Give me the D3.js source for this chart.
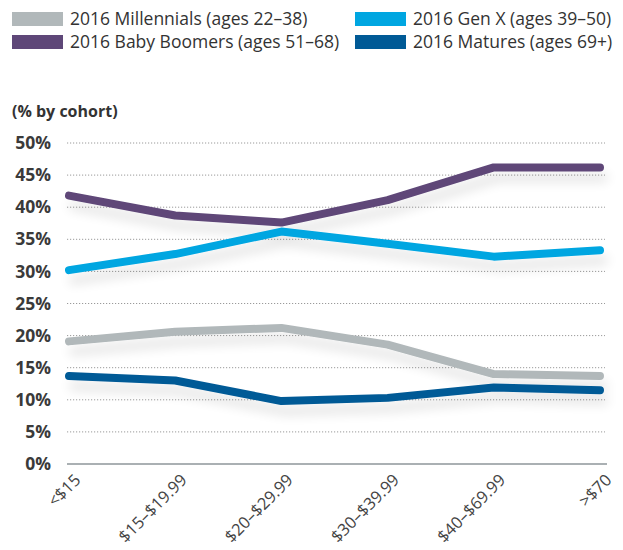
<!DOCTYPE html>
<html>
<head>
<meta charset="utf-8">
<script src="https://cdn.jsdelivr.net/npm/d3@7"></script>
<style>
  body { margin: 0; background: #fff; }
  svg text { font-family: "Open Sans", "Noto Sans", sans-serif; }
</style>
</head>
<body>
<div id="main"></div>
<script>
// price bands and cohort shares (% by cohort)
var categories = ['<$15', '$15–$19.99', '$20–$29.99', '$30–$39.99', '$40–$69.99', '>$70'];
var millennials = [19.1, 20.6, 21.2, 18.6, 14.0, 13.7];
var genX = [30.2, 32.7, 36.2, 34.3, 32.3, 33.3];
var boomers = [41.8, 38.7, 37.6, 41.1, 46.2, 46.2];
var matures = [13.7, 13.0, 9.8, 10.3, 11.9, 11.5];
var yTicks = [0, 5, 10, 15, 20, 25, 30, 35, 40, 45, 50];

var series = [
    { name: '2016 Millennials (ages 22–38)', values: millennials, color: '#b1b8ba' },
    { name: '2016 Gen X (ages 39–50)', values: genX, color: '#00a6e1' },
    { name: '2016 Baby Boomers (ages 51–68)', values: boomers, color: '#5e4778' },
    { name: '2016 Matures (ages 69+)', values: matures, color: '#005a96' }
];

var svg = d3.select('#main').append('svg').attr('width', 623).attr('height', 550);

var defs = svg.append('defs');
var f = defs.append('filter').attr('id', 'shadow')
    .attr('x', '-10%').attr('y', '-50%').attr('width', '120%').attr('height', '300%');
f.append('feGaussianBlur').attr('in', 'SourceAlpha').attr('stdDeviation', 6);
f.append('feOffset').attr('dx', 4).attr('dy', 10).attr('result', 'b');
f.append('feComponentTransfer').append('feFuncA').attr('type', 'linear').attr('slope', 0.12);
var m = f.append('feMerge');
m.append('feMergeNode');
m.append('feMergeNode').attr('in', 'SourceGraphic');

// legend
var legendPos = [[12, 18], [355, 18], [12, 41], [355, 41]];
var legendOrder = [0, 1, 2, 3];
var lg = svg.append('g').selectAll('g')
    .data(legendOrder)
    .enter()
    .append('g')
    .attr('transform', (d, i) => 'translate(' + legendPos[i][0] + ',' + legendPos[i][1] + ')');
lg.append('rect').attr('x', 0).attr('y', -6).attr('width', 51).attr('height', 14)
    .attr('fill', d => series[d].color);
lg.append('text').attr('x', 58).attr('y', 7)
    .attr('font-size', 17.5).attr('fill', '#333')
    .text(d => series[d].name);

var x = d3.scalePoint().domain(categories).range([69, 600]);
var y = d3.scaleLinear().domain([0, 50]).range([464, 143]);

// cohort caption
svg.append('text').attr('x', 12).attr('y', 117)
    .attr('font-size', 16).attr('font-weight', 'bold').attr('fill', '#333')
    .text('(% by cohort)');

// y axis with dotted grid
var yAxis = svg.append('g').attr('transform', 'translate(0,0)')
    .call(d3.axisLeft(y).tickValues(yTicks).tickSize(0).tickFormat(d => d + '%'));
yAxis.select('.domain').remove();
yAxis.selectAll('text')
    .attr('x', 51).attr('dy', '0.32em')
    .attr('font-size', 17.5).attr('font-weight', 'bold').attr('fill', '#3a3a3a')
    .style('font-family', '"Open Sans", sans-serif');

svg.append('g').selectAll('line')
    .data(yTicks.filter(d => d > 0))
    .enter()
    .append('line')
    .attr('x1', 67).attr('x2', 605)
    .attr('y1', d => y(d)).attr('y2', d => y(d))
    .attr('stroke', '#9a9a9a').attr('stroke-width', 1)
    .attr('stroke-dasharray', '1.2,1.8');

// baseline
svg.append('line')
    .attr('x1', 67).attr('x2', 607)
    .attr('y1', y(0)).attr('y2', y(0))
    .attr('stroke', '#aab0b3').attr('stroke-width', 2);

// x axis labels rotated
var xAxis = svg.append('g').attr('transform', 'translate(0,' + y(0) + ')')
    .call(d3.axisBottom(x).tickSize(0));
xAxis.select('.domain').remove();
xAxis.selectAll('text')
    .attr('font-size', 16.5).attr('fill', '#444')
    .style('text-anchor', 'end')
    .attr('dy', 0)
    .attr('transform', 'translate(10,15) rotate(-45)')
    .style('font-family', '"Open Sans", sans-serif');

// lines
var line = d3.line()
    .x((d, i) => x(categories[i]))
    .y(d => y(d));

svg.append('g').attr('filter', 'url(#shadow)').selectAll('path')
    .data(series)
    .enter()
    .append('path')
    .attr('d', d => line(d.values))
    .attr('fill', 'none')
    .attr('stroke', d => d.color)
    .attr('stroke-width', 8)
    .attr('stroke-linecap', 'round')
    .attr('stroke-linejoin', 'round');
</script>
</body>
</html>
